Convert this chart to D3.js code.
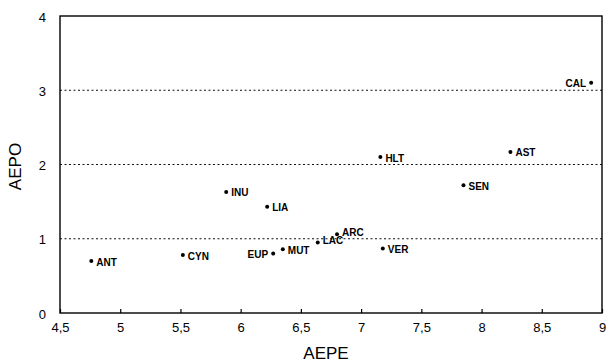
<!DOCTYPE html>
<html>
<head>
<meta charset="utf-8">
<script src="https://d3js.org/d3.v7.min.js"></script>
<style>
  body { margin: 0; background: #fff; }
  text { font-family: "Liberation Sans", Arial, sans-serif; fill: #000; }
  .lbl { font-size: 10px; font-weight: bold; }
  .tick text { font-size: 13px; }
</style>
</head>
<body>
<svg width="606" height="362"></svg>
<script>
// species codes and their coordinates (AEPE, AEPO)
var names = ["ANT", "CYN", "INU", "LIA", "EUP", "MUT", "LAC", "ARC", "VER", "HLT", "SEN", "AST", "CAL"];
var aepe  = [4.76, 5.52, 5.88, 6.22, 6.27, 6.35, 6.64, 6.80, 7.18, 7.16, 7.85, 8.24, 8.91];
var aepo  = [0.70, 0.78, 1.63, 1.43, 0.80, 0.86, 0.95, 1.06, 0.87, 2.10, 1.72, 2.17, 3.10];
var xTicks = [4.5, 5, 5.5, 6, 6.5, 7, 7.5, 8, 8.5, 9];
var yTicks = [0, 1, 2, 3, 4];
var gridLines = [1, 2, 3];
var leftLabels = ["CAL", "EUP"];
var raisedLabels = ["ARC", "LAC"];

var svg = d3.select("svg"),
    margin = {top: 16, right: 4, bottom: 49, left: 60},
    width = +svg.attr("width") - margin.left - margin.right,
    height = +svg.attr("height") - margin.top - margin.bottom;

var data = names.map(function(n, i) { return {name: n, x: aepe[i], y: aepo[i]}; });

var x = d3.scaleLinear().domain([4.5, 9]).range([0, width]);
var y = d3.scaleLinear().domain([0, 4]).range([height, 0]);
var fmt = function(d) { return String(d).replace(".", ","); };

var g = svg.append("g")
    .attr("transform", "translate(" + margin.left + "," + margin.top + ")");

// dotted reference lines
g.selectAll(".grid")
  .data(gridLines)
  .enter().append("line")
    .attr("x1", 0).attr("x2", width)
    .attr("y1", function(d) { return y(d); })
    .attr("y2", function(d) { return y(d); })
    .attr("stroke", "#111")
    .attr("stroke-width", 1.2)
    .attr("stroke-dasharray", "2,2.5");

// frame
g.append("rect")
    .attr("width", width).attr("height", height)
    .attr("fill", "none").attr("stroke", "#000").attr("stroke-width", 1.4);

var xAxis = g.append("g")
    .attr("transform", "translate(0," + height + ")")
    .call(d3.axisBottom(x).tickValues(xTicks).tickFormat(fmt).tickSizeInner(-4).tickSizeOuter(0).tickPadding(10));
xAxis.select(".domain").remove();
xAxis.selectAll(".tick line").attr("stroke", "#000").attr("stroke-width", 1.2);

var yAxis = g.append("g")
    .call(d3.axisLeft(y).tickValues(yTicks).tickFormat(fmt).tickSize(0).tickPadding(14));
yAxis.select(".domain").remove();
yAxis.selectAll(".tick text").attr("dy", "0.4em");

// points
var pts = g.selectAll(".pt")
  .data(data)
  .enter().append("g")
    .attr("transform", function(d) { return "translate(" + x(d.x) + "," + y(d.y) + ")"; });

pts.append("circle")
    .attr("r", 2)
    .attr("fill", "#000");

pts.append("text")
    .attr("class", "lbl")
    .attr("x", function(d) { return leftLabels.indexOf(d.name) >= 0 ? -5 : 5; })
    .attr("dy", function(d) { return raisedLabels.indexOf(d.name) >= 0 ? "0.15em" : "0.45em"; })
    .attr("text-anchor", function(d) { return leftLabels.indexOf(d.name) >= 0 ? "end" : "start"; })
    .text(function(d) { return d.name; });

// axis titles
svg.append("text")
    .attr("x", margin.left + width / 2 - 5)
    .attr("y", 359)
    .attr("text-anchor", "middle")
    .style("font-size", "17px")
    .text("AEPE");

svg.append("text")
    .attr("transform", "translate(21," + (margin.top + height / 2 + 2) + ") rotate(-90)")
    .attr("text-anchor", "middle")
    .style("font-size", "17px")
    .text("AEPO");
</script>
</body>
</html>
